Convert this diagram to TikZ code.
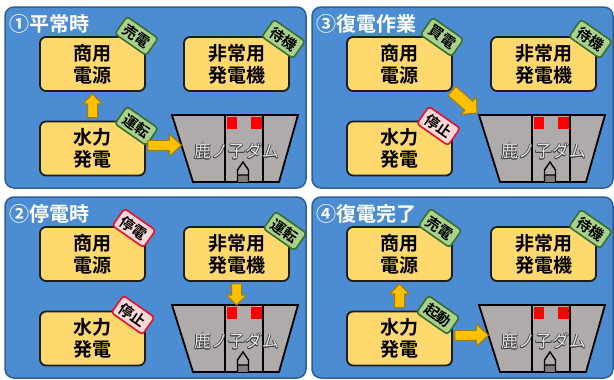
\documentclass[tikz,border=0pt]{standalone}
\usepackage{fontspec}
\setmainfont{Noto Sans CJK JP}[BoldFont={Noto Sans CJK JP Bold}]
\usetikzlibrary{calc}

\definecolor{panelfill}{HTML}{4C8CD2}
\definecolor{panelborder}{HTML}{2F5F95}
\definecolor{boxfill}{HTML}{FFD86E}
\definecolor{boxborder}{HTML}{1E1E1E}
\definecolor{flowfill}{HTML}{FFC000}
\definecolor{flowborder}{HTML}{A67C00}
\definecolor{tagokfill}{HTML}{A9D18E}
\definecolor{tagokborder}{HTML}{3B6E2A}
\definecolor{tagstopfill}{HTML}{FDD8D8}
\definecolor{tagstopborder}{HTML}{E8102A}
\definecolor{damgray}{HTML}{AFABAB}
\definecolor{gatedark}{HTML}{7F7F7F}
\definecolor{damtextlight}{HTML}{E4E4E4}
\definecolor{damtextdark}{HTML}{3A3A3A}

\tikzset{
  panelbg/.style={fill=panelfill, draw=panelborder, line width=1.5pt, rounded corners=9pt},
  unit/.style={draw=boxborder, fill=boxfill, line width=1.8pt, rounded corners=6pt,
    minimum width=105pt, minimum height=54pt, inner sep=0pt, align=center,
    font=\bfseries\fontsize{19}{22}\selectfont},
  paneltitle/.style={text=white, font=\bfseries\fontsize{20}{22}\selectfont,
    inner sep=0pt, anchor=west},
  tagbase/.style={rotate=-35, rounded corners=3pt, line width=1.6pt,
    minimum width=38pt, minimum height=21pt, inner sep=0pt,
    font=\bfseries\fontsize{14.5}{14.5}\selectfont},
  tagok/.style={tagbase, draw=tagokborder, fill=tagokfill},
  tagstop/.style={tagbase, draw=tagstopborder, fill=tagstopfill},
  flow/.style={fill=flowfill, draw=flowborder, line width=1pt, line join=miter},
  damline/.style={draw=black, line width=1.8pt, line join=miter},
  damtext/.style={font=\fontsize{17}{17}\selectfont, inner sep=0pt},
}

% block arrow from #1 to #2; head length #3, head half width #4, shaft half width #5
\newcommand\flowarrow[5]{%
  \coordinate (hb) at ($(#2)!#3!(#1)$);
  \draw[flow] ($(#1)!#5!90:(#2)$)
    -- ($(hb)!#5!90:(#2)$)
    -- ($(hb)!#4!90:(#2)$)
    -- (#2)
    -- ($(hb)!#4!-90:(#2)$)
    -- ($(hb)!#5!-90:(#2)$)
    -- ($(#1)!#5!-90:(#2)$) -- cycle;
}

% one panel: background, title, the three units and the dam
\newcommand\drawpanel[4]{% #1 prefix, #2 x shift, #3 y shift, #4 title
  \begin{scope}[shift={(#2,#3)}]
    \draw[panelbg] (5,7) rectangle (306,188);
    \node[paneltitle] (#1title) at (9,24) {#4};
    \node[unit] (#1grid)  at (92.5,64)   {商用\\電源};
    \node[unit] (#1gen)   at (236.5,64)  {非常用\\発電機};
    \node[unit] (#1hydro) at (92.5,148.5){水力\\発電};
    % dam body
    \coordinate (#1dtl) at (172,115);
    \coordinate (#1dtr) at (298,115);
    \coordinate (#1dbr) at (279,182);
    \coordinate (#1dbl) at (193,182);
    \draw[damline, fill=damgray] (#1dtl) -- (#1dtr) -- (#1dbr) -- (#1dbl) -- cycle;
    \draw[damline] (225,115) -- (225,182) (263,115) -- (263,182);
    \fill[red] (227,117) rectangle (237,129);
    \fill[red] (251,117) rectangle (261.5,129);
    \fill[gatedark] (237.5,175) rectangle (248.5,182);
    \draw[line width=1.4pt, line join=miter] (237.5,182) -- (237.5,170) -- (243,162)
      -- (248.5,170) -- (248.5,182) (237.5,175) -- (248.5,175);
    % dam name, outlined lettering
    \coordinate (#1dc) at (236.5,151.5);
    \foreach \dx/\dy in {0.6/0,-0.6/0,0/0.6,0/-0.6,0.45/0.45,-0.45/0.45,0.45/-0.45,-0.45/-0.45}
      \node[damtext, text=damtextdark] at ($(#1dc)+(\dx,\dy)$) {鹿ノ子ダム};
    \node[damtext, text=damtextlight] (#1damname) at (#1dc) {鹿ノ子ダム};
  \end{scope}
}

\begin{document}
\begin{tikzpicture}[x=1pt, y=-1pt]
  \useasboundingbox (0,0) rectangle (614,380);

  % (1) normal operation
  \drawpanel{A}{0}{0}{①平常時}
  \node[tagok] (Atag1) at (136.5,36) {売電};
  \node[tagok] (Atag2) at (283.5,39) {待機};
  \node[tagok] (Atag3) at (136.5,126) {運転};
  \coordinate (Aup0) at ($(Ahydro.north)+(0,-3)$);
  \coordinate (Aup1) at ($(Agrid.south)+(0,2)$);
  \flowarrow{Aup0}{Aup1}{10pt}{9.5pt}{5pt}
  \coordinate (Art0) at ($(Ahydro.east)+(2,-3)$);
  \coordinate (Art1) at ($(Adtl)!0.45!(Adbl)$);
  \flowarrow{Art0}{Art1}{12pt}{11pt}{5pt}

  % (2) power failure
  \drawpanel{B}{0}{190}{②停電時}
  \node[tagstop] (Btag1) at (134,228) {停電};
  \node[tagok]   (Btag2) at (285,231) {運転};
  \node[tagstop] (Btag3) at (133,315) {停止};
  \coordinate (Bdn0) at ($(Bgen.south)+(0,2)$);
  \coordinate (Bdn1) at (Bgen.south |- Bdtl);
  \flowarrow{Bdn0}{Bdn1}{10pt}{10pt}{5pt}

  % (3) restoration work
  \drawpanel{C}{307}{0}{③復電作業}
  \node[tagok]   (Ctag1) at (442,37) {買電};
  \node[tagok]   (Ctag2) at (590.5,39) {待機};
  \node[tagstop] (Ctag3) at (438.5,126) {停止};
  \coordinate (Cdg0) at ($(Cgrid.south east)+(-1,-1)$);
  \coordinate (Cdg1) at ($(Cdtl)+(-2,-2)$);
  \flowarrow{Cdg0}{Cdg1}{11pt}{11.5pt}{6pt}

  % (4) restoration complete
  \drawpanel{D}{307}{190}{④復電完了}
  \node[tagok] (Dtag1) at (440,228) {売電};
  \node[tagok] (Dtag2) at (590.5,229) {待機};
  \node[tagok] (Dtag3) at (438,315) {起動};
  \coordinate (Dup0) at ($(Dhydro.north)+(0,-3)$);
  \coordinate (Dup1) at ($(Dgrid.south)+(0,2)$);
  \flowarrow{Dup0}{Dup1}{10pt}{9.5pt}{5pt}
  \coordinate (Drt0) at ($(Dhydro.east)+(2,-3)$);
  \coordinate (Drt1) at ($(Ddtl)!0.45!(Ddbl)$);
  \flowarrow{Drt0}{Drt1}{12pt}{11pt}{5pt}
\end{tikzpicture}
\end{document}
